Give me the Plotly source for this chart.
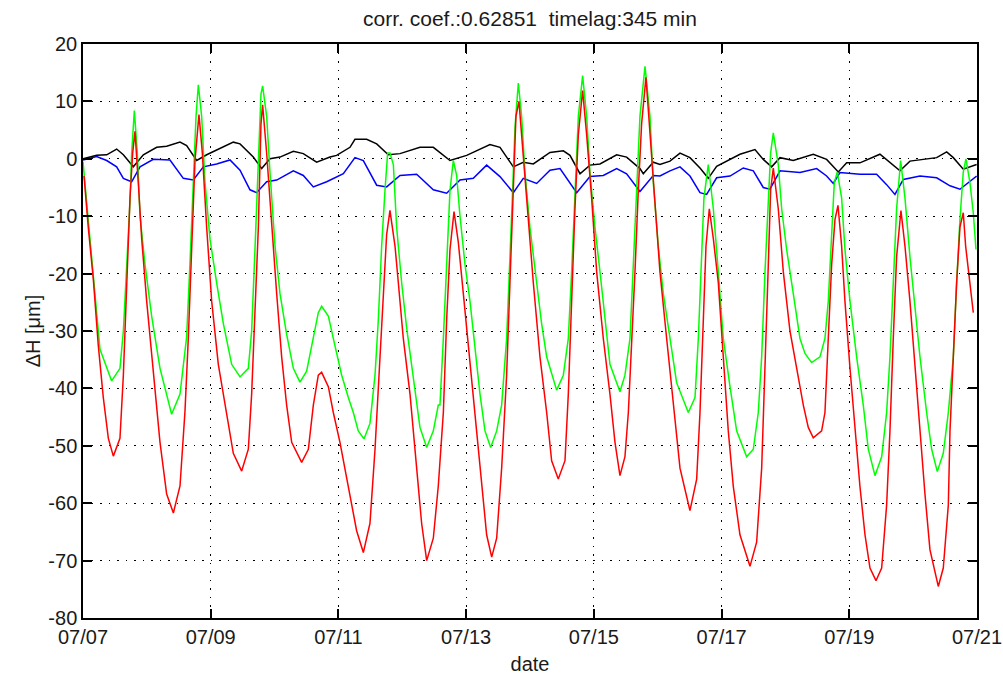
import pandas as pd
import plotly.graph_objects as go

# Time axis origin; positions below are in days after it
T0 = pd.Timestamp("2011-07-07")

# Red series (days, ΔH in µm)
red_day = [0.016, 0.083, 0.162, 0.240, 0.318, 0.397, 0.475, 0.579, 0.632, 0.684, 0.736, 0.778, 0.814,
           0.866, 0.919, 0.997, 1.101, 1.206, 1.310, 1.415, 1.519, 1.597, 1.649, 1.702, 1.754, 1.816,
           1.869, 1.937, 2.015, 2.119, 2.250, 2.354, 2.485, 2.589, 2.641, 2.693, 2.746, 2.787, 2.813,
           2.876, 2.954, 3.033, 3.111, 3.189, 3.268, 3.424, 3.529, 3.607, 3.685, 3.737, 3.842, 3.920,
           4.024, 4.129, 4.207, 4.285, 4.390, 4.494, 4.573, 4.651, 4.703, 4.755, 4.807, 4.886, 4.938,
           5.016, 5.121, 5.225, 5.303, 5.382, 5.486, 5.564, 5.643, 5.695, 5.747, 5.810, 5.877, 5.956,
           6.034, 6.112, 6.191, 6.269, 6.321, 6.400, 6.478, 6.556, 6.634, 6.686, 6.739, 6.780, 6.827,
           6.895, 6.974, 7.052, 7.156, 7.261, 7.339, 7.443, 7.548, 7.600, 7.652, 7.704, 7.757, 7.824,
           7.887, 7.965, 8.044, 8.148, 8.252, 8.331, 8.409, 8.487, 8.540, 8.592, 8.644, 8.696, 8.748,
           8.816, 8.879, 8.957, 9.035, 9.140, 9.244, 9.349, 9.505, 9.610, 9.662, 9.714, 9.756, 9.808,
           9.871, 9.949, 10.027, 10.105, 10.184, 10.288, 10.445, 10.549, 10.628, 10.680, 10.732,
           10.768, 10.810, 10.888, 10.967, 11.071, 11.176, 11.254, 11.280, 11.358, 11.436, 11.567,
           11.619, 11.671, 11.724, 11.776, 11.823, 11.880, 11.932, 12.011, 12.089, 12.167, 12.246,
           12.324, 12.418, 12.507, 12.585, 12.637, 12.689, 12.741, 12.809, 12.872, 12.950, 13.029,
           13.107, 13.185, 13.263, 13.394, 13.472, 13.551, 13.577, 13.629, 13.681, 13.733, 13.785,
           13.822, 13.890, 13.942, 13.984]
red_val = [-3.0, -12.0, -21.0, -32.6, -41.6, -48.7, -51.8, -48.7, -37.7, -21.6, -6.8, 1.0, 4.8,
           -4.2, -13.9, -24.8, -37.7, -49.4, -58.4, -61.7, -57.0, -44.0, -31.3, -15.2, -0.3, 7.7,
           1.0, -12.0, -24.8, -35.8, -44.2, -51.3, -54.4, -50.6, -41.0, -28.0, -12.0, 6.0, 9.4,
           1.0, -12.0, -23.5, -34.5, -42.9, -49.4, -52.9, -50.6, -42.9, -37.7, -37.2, -39.7, -44.2,
           -49.4, -55.8, -60.0, -64.8, -68.6, -63.5, -50.6, -34.5, -22.3, -13.2, -9.0, -15.2, -21.6,
           -31.3, -41.0, -53.9, -63.5, -70.0, -66.1, -57.0, -44.2, -28.0, -15.8, -9.2, -14.5, -23.5,
           -32.6, -41.0, -50.6, -60.3, -65.5, -69.4, -66.1, -53.9, -37.7, -21.6, -5.5, 7.4, 10.0,
           1.0, -10.6, -21.6, -34.5, -44.2, -52.6, -55.8, -52.6, -41.0, -24.8, -8.7, 4.2, 11.9,
           4.2, -6.8, -19.7, -31.3, -41.0, -49.4, -55.2, -51.9, -44.2, -32.6, -19.7, -5.5, 6.1,
           14.2, 4.2, -8.7, -19.7, -31.3, -42.9, -53.9, -61.3, -55.8, -44.2, -28.0, -15.2, -8.7,
           -13.9, -21.6, -34.5, -47.4, -57.1, -65.5, -71.0, -66.8, -53.9, -37.7, -18.4,
           -5.5, -1.6, -8.7, -19.7, -30.0, -36.5, -41.6, -42.9, -46.8, -48.6, -47.4,
           -44.2, -31.3, -18.4, -10.6, -8.1, -15.2, -24.8, -36.5, -47.4, -57.1, -65.5,
           -71.3, -73.5, -71.3, -60.3, -47.4, -31.3, -17.1, -9.0, -15.2, -24.8, -36.5,
           -47.4, -58.4, -68.1, -74.5, -71.3, -60.3, -47.4, -34.5, -21.6, -11.9,
           -9.4, -15.2, -21.6, -26.8]

# Green series (days, ΔH in µm)
green_day = [0.0, 0.110, 0.188, 0.266, 0.449, 0.579, 0.632, 0.684, 0.736, 0.762, 0.804, 0.851,
             0.893, 0.971, 1.075, 1.206, 1.388, 1.519, 1.623, 1.676, 1.728, 1.770, 1.806, 1.858,
             1.910, 1.989, 2.093, 2.198, 2.328, 2.459, 2.589, 2.641, 2.693, 2.746, 2.787, 2.813,
             2.876, 2.928, 3.007, 3.085, 3.189, 3.294, 3.398, 3.502, 3.607, 3.685, 3.737, 3.842,
             3.946, 4.051, 4.155, 4.233, 4.311, 4.400, 4.494, 4.573, 4.625, 4.677, 4.729, 4.771,
             4.807, 4.860, 4.912, 4.990, 5.068, 5.173, 5.277, 5.382, 5.486, 5.564, 5.590, 5.643,
             5.695, 5.747, 5.799, 5.851, 5.904, 5.982, 6.060, 6.138, 6.217, 6.295, 6.384, 6.478,
             6.556, 6.634, 6.686, 6.728, 6.765, 6.817, 6.869, 6.921, 7.000, 7.104, 7.182, 7.261,
             7.417, 7.522, 7.600, 7.652, 7.704, 7.757, 7.824, 7.887, 7.939, 8.018, 8.096, 8.174,
             8.252, 8.409, 8.487, 8.566, 8.618, 8.670, 8.722, 8.801, 8.879, 8.931, 9.009, 9.088,
             9.192, 9.296, 9.479, 9.584, 9.636, 9.688, 9.724, 9.792, 9.871, 9.949, 10.027, 10.132,
             10.236, 10.393, 10.497, 10.575, 10.628, 10.680, 10.732, 10.768, 10.810, 10.888, 10.941,
             11.019, 11.123, 11.228, 11.306, 11.410, 11.541, 11.619, 11.671, 11.724, 11.765, 11.812,
             11.880, 11.932, 12.011, 12.115, 12.219, 12.298, 12.402, 12.507, 12.585, 12.637, 12.689,
             12.741, 12.804, 12.872, 12.950, 13.029, 13.107, 13.211, 13.290, 13.378, 13.472, 13.551,
             13.629, 13.681, 13.733, 13.785, 13.827, 13.890, 13.942, 13.984]
green_val = [-0.5, -13.9, -24.8, -33.2, -38.7, -36.5, -30.0, -19.7, -7.4, 1.0, 8.4, 1.0,
             -10.0, -18.4, -27.4, -36.5, -44.5, -41.0, -31.0, -18.0, -4.2, 7.4, 12.9, 7.4,
             -4.0, -14.0, -21.6, -28.7, -35.8, -38.0, -36.5, -30.0, -15.8, 1.0, 11.3, 12.7,
             7.4, -2.3, -15.2, -23.5, -30.6, -36.5, -38.9, -37.0, -31.3, -26.8, -25.7, -27.4,
             -32.6, -37.7, -41.6, -44.2, -47.4, -48.8, -46.1, -37.7, -28.0, -15.2, -5.5, 1.0,
             1.0, -1.0, -12.0, -21.6, -29.4, -37.7, -46.8, -50.3, -47.4, -42.9, -42.9, -31.3,
             -18.4, -5.5, -0.3, -2.9, -10.0, -18.4, -24.8, -33.2, -41.0, -47.4, -50.3, -47.4,
             -42.9, -31.3, -18.4, -5.5, 5.5, 13.2, 7.4, -2.3, -12.0, -21.0, -28.7, -34.5,
             -40.3, -37.7, -31.3, -19.7, -5.5, 7.4, 14.5, 7.4, -2.3, -12.0, -19.7, -28.0,
             -35.8, -40.6, -37.7, -31.3, -18.4, -4.2, 7.4, 16.1, 7.4, -4.2, -15.2, -23.5,
             -31.3, -39.0, -44.2, -41.6, -31.3, -18.4, -6.8, -1.0, -8.7, -19.7, -31.3, -39.7,
             -47.4, -51.9, -50.6, -44.2, -34.5, -19.7, -6.8, 1.0, 4.5, -1.0, -8.7,
             -15.8, -23.5, -31.3, -33.9, -35.5, -34.5, -31.3, -24.8, -13.2, -4.2, -2.3,
             -6.8, -15.8, -24.8, -34.5, -42.9, -50.6, -55.2, -51.9, -44.2, -34.5, -21.6,
             -8.7, -0.3, -6.8, -17.1, -26.1, -34.5, -44.2, -50.6, -54.5, -51.3, -44.2,
             -34.5, -21.6, -10.6, -2.3, 0.0, -4.2, -9.4, -15.8]

# Blue series (days, ΔH in µm)
blue_day = [0.0, 0.214, 0.371, 0.527, 0.632, 0.762, 0.893, 1.101, 1.362, 1.571, 1.728, 1.884,
            2.093, 2.302, 2.459, 2.615, 2.719, 2.876, 3.033, 3.294, 3.450, 3.607, 3.816, 4.077,
            4.259, 4.390, 4.599, 4.755, 4.964, 5.225, 5.486, 5.695, 5.904, 6.112, 6.321, 6.530,
            6.739, 6.895, 7.104, 7.313, 7.470, 7.731, 7.939, 8.148, 8.357, 8.513, 8.722, 8.931,
            9.035, 9.192, 9.349, 9.505, 9.662, 9.766, 9.923, 10.132, 10.340, 10.497, 10.653,
            10.758, 10.915, 11.228, 11.489, 11.645, 11.750, 11.854, 12.167, 12.428, 12.585,
            12.715, 12.846, 13.107, 13.368, 13.577, 13.733, 13.890, 13.994]
blue_val = [-0.2, 0.4, -0.3, -1.4, -3.4, -4.0, -1.4, -0.1, -0.2, -3.4, -3.7, -1.4,
            -0.9, -0.2, -2.0, -5.4, -5.9, -4.0, -3.7, -2.1, -2.9, -4.9, -4.0, -2.6,
            0.2, -0.3, -4.6, -4.9, -2.9, -2.7, -5.4, -6.0, -3.7, -3.4, -1.1, -3.1,
            -5.9, -3.4, -4.3, -2.0, -1.7, -5.9, -3.1, -2.9, -1.7, -2.6, -5.7, -2.9,
            -3.0, -2.1, -1.4, -3.0, -5.9, -6.2, -3.3, -3.0, -1.6, -2.1, -5.0,
            -5.3, -2.1, -2.4, -1.7, -3.0, -4.3, -2.4, -2.7, -2.7, -4.5,
            -6.2, -3.6, -3.0, -3.3, -4.7, -5.3, -3.9, -3.0]

# Black series (days, ΔH in µm)
black_day = [0.0, 0.214, 0.371, 0.527, 0.632, 0.788, 0.945, 1.154, 1.310, 1.519, 1.623, 1.780,
             1.937, 2.093, 2.354, 2.459, 2.667, 2.798, 2.928, 3.085, 3.294, 3.450, 3.659, 3.868,
             3.972, 4.181, 4.259, 4.442, 4.599, 4.781, 4.964, 5.277, 5.486, 5.747, 6.008, 6.373,
             6.530, 6.739, 6.895, 7.052, 7.313, 7.522, 7.626, 7.783, 7.939, 8.096, 8.357, 8.513,
             8.722, 8.774, 8.931, 9.035, 9.192, 9.349, 9.505, 9.662, 9.792, 9.923, 10.079,
             10.288, 10.523, 10.653, 10.784, 10.915, 11.123, 11.436, 11.645, 11.828, 11.959,
             12.167, 12.480, 12.637, 12.794, 12.950, 13.211, 13.368, 13.525, 13.629, 13.785,
             13.942, 13.994]
black_val = [0.0, 0.6, 0.7, 1.7, 0.7, -1.4, 0.7, 2.0, 2.2, 2.9, 2.3, -0.3,
             0.7, 1.5, 2.9, 2.6, 0.3, -1.7, 0.0, 0.3, 1.3, 0.9, -0.6, 0.3,
             0.6, 2.0, 3.4, 3.4, 2.6, 0.7, 0.9, 2.0, 2.0, -0.3, 0.6, 2.5,
             2.0, -1.4, -0.6, -0.9, 1.1, 1.4, 0.6, -2.6, -1.1, -0.9, 0.7, 0.3,
             -1.7, -2.6, -0.6, -1.0, -0.4, 1.0, 0.2, -1.6, -3.4, -1.3, -0.4,
             0.8, 1.6, -0.1, -1.4, 0.2, -0.3, 0.8, -0.1, -2.3, -0.7,
             -0.7, 0.8, -0.7, -2.1, -0.4, -0.1, 0.2, 1.2, 0.2, -1.8,
             -1.1, -1.0]

# Axis ticks
y_ticks = [-80, -70, -60, -50, -40, -30, -20, -10, 0, 10, 20]
y_tick_text = ["-80", "-70", "-60", "-50", "-40", "-30", "-20", "-10", "0", "10", "20"]
x_tick_days = [0, 2, 4, 6, 8, 10, 12, 14]

TITLE = "corr. coef.:0.62851  timelag:345 min"


def to_time(days):
    return T0 + pd.to_timedelta(days, unit="D")


FONT = dict(family="Liberation Sans, Arial, sans-serif", size=20, color="#1a1a1a")

fig = go.Figure()
series = [
    (blue_day, blue_val, "#0000ff"),
    (black_day, black_val, "#000000"),
    (green_day, green_val, "#00ff00"),
    (red_day, red_val, "#ff0000"),
]
for d, v, c in series:
    fig.add_trace(go.Scatter(x=to_time(d), y=v, mode="lines",
                             line=dict(color=c, width=1.5), showlegend=False,
                             hoverinfo="skip"))

axis_common = dict(
    showline=True, linecolor="black", linewidth=1.5, mirror="allticks",
    ticks="inside", ticklen=9, tickwidth=1.5, tickcolor="black",
    showgrid=True, gridcolor="black", gridwidth=1, griddash="1.5px,7px",
    zeroline=False, tickfont=FONT, automargin=False,
)

fig.update_xaxes(
    type="date",
    range=[to_time(0), to_time(14)],
    tickvals=list(to_time(x_tick_days)),
    tickformat="%m/%d",
    title=dict(text="date", font=FONT, standoff=10),
    **axis_common,
)
fig.update_yaxes(
    range=[-80, 20],
    tickvals=y_ticks,
    ticktext=y_tick_text,
    title=dict(text="ΔH [μm]", font=FONT, standoff=2),
    **axis_common,
)

fig.update_layout(
    width=1003, height=678,
    margin=dict(l=83, r=26, t=44, b=60),
    paper_bgcolor="white", plot_bgcolor="white",
    title=dict(text=TITLE, font=dict(FONT, size=21), x=530 / 1003, xanchor="center",
               y=1 - 19 / 678, yanchor="middle"),
)

fig.write_html("out.html")
